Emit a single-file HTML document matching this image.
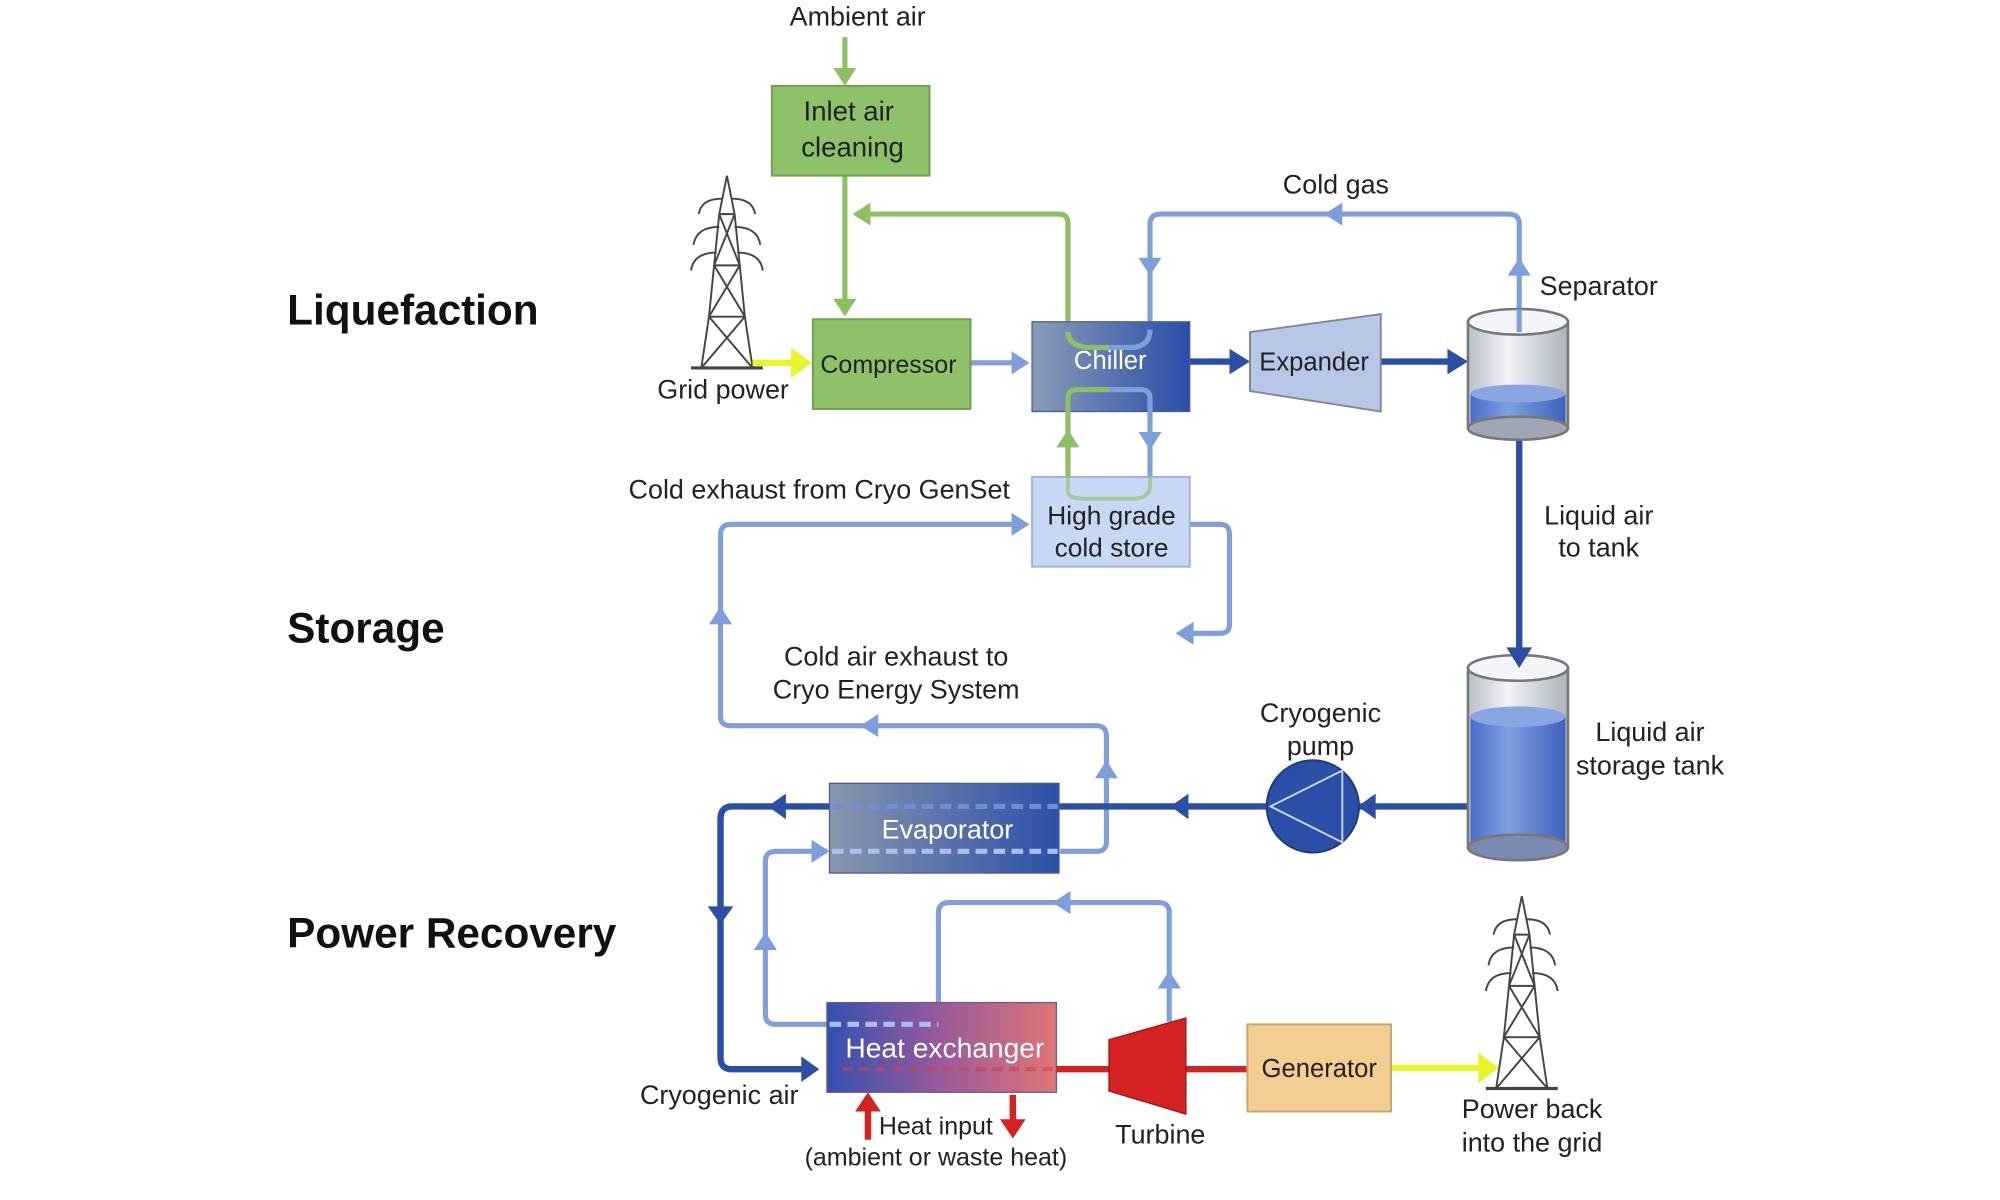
<!DOCTYPE html>
<html><head><meta charset="utf-8"><style>
html,body{margin:0;padding:0;background:#fff;}
svg{display:block;}
text{font-family:"Liberation Sans",sans-serif;fill:#222;}
</style></head><body>
<svg width="2000" height="1200" viewBox="0 0 1560 936" xmlns="http://www.w3.org/2000/svg">
<defs>
<linearGradient id="gch" x1="0" x2="1"><stop offset="0" stop-color="#8a9bb8"/><stop offset="1" stop-color="#2a4ea8"/></linearGradient>
<linearGradient id="gev" x1="0" x2="1"><stop offset="0" stop-color="#8896ad"/><stop offset="1" stop-color="#2d50a8"/></linearGradient>
<linearGradient id="ghx" x1="0" x2="1"><stop offset="0" stop-color="#3450b0"/><stop offset="0.5" stop-color="#9a5a9a"/><stop offset="1" stop-color="#e07575"/></linearGradient>
<linearGradient id="gcyl" x1="0" x2="1"><stop offset="0" stop-color="#b8bec8"/><stop offset="0.4" stop-color="#f2f4f7"/><stop offset="1" stop-color="#aab2bd"/></linearGradient>
<linearGradient id="gliq" x1="0" x2="1"><stop offset="0" stop-color="#4a6fc8"/><stop offset="0.4" stop-color="#7e9ee0"/><stop offset="1" stop-color="#3f63be"/></linearGradient>
<g id="tower" fill="none" stroke="#444" stroke-width="1.5">
<path d="M0,0 L-6,30 L-10,70 L-14,110 L-20,150 M0,0 L6,30 L10,70 L14,110 L20,150"/>
<path d="M-6,30 L10,70 L-14,110 L20,150 M6,30 L-10,70 L14,110 L-20,150 M-6,30 L6,30 M-10,70 L10,70 M-14,110 L14,110"/>
<path d="M-4,18 Q-20,18 -22,30 M4,18 Q20,18 22,30 M-6,40 Q-24,40 -26,54 M6,40 Q24,40 26,54 M-8,60 Q-26,60 -28,74 M8,60 Q26,60 28,74"/>
<path d="M-28,150 L28,150" stroke-width="2.5"/>
</g>
</defs>
<g transform="translate(-3,-1)">
<text x="227" y="254" font-size="33" font-weight="bold" style="fill:#111">Liquefaction</text>
<text x="227" y="502" font-size="33" font-weight="bold" style="fill:#111">Storage</text>
<text x="227" y="740" font-size="33" font-weight="bold" style="fill:#111">Power Recovery</text>

<g stroke="#8cc063" stroke-width="4" fill="none">
<path d="M662,30 V62"/>
<path d="M662,138 V240"/>
<path d="M836,265 V175 Q836,168 829,168 H676"/>
<path d="M836,390 V312 Q836,305 843,305 H870"/>
</g>
<g fill="#8cc063">
<polygon points="662,68 653,54 671,54"/>
<polygon points="662,248 653,234 671,234"/>
<polygon points="668,168 682,159 682,177"/>
<polygon points="836,336 827,350 845,350"/>
</g>

<g stroke="#7f9fdc" stroke-width="4" fill="none">
<path d="M760,284 H800"/>
<path d="M1188,245 V176 Q1188,168 1180,168 H908 Q900,168 900,176 V255 Q900,265 890,265 H870"/>
<path d="M870,305 H893 Q900,305 900,312 V390"/>
<path d="M931,410 H955 Q962,410 962,418 V488 Q962,495 955,495 H926"/>
<path d="M800,410 H573 Q565,410 565,418 V560 Q565,567 573,567 H858 Q866,567 866,575 V658 Q866,665 858,665 H830"/>
<path d="M648,665 H608 Q600,665 600,673 V792 Q600,800 608,800 H650"/>
<path d="M735,800 V713 Q735,705 743,705 H907 Q915,705 915,713 V798"/>
</g>
<g fill="#7f9fdc">
<polygon points="806,284 792,275 792,293"/>
<polygon points="1188,202 1179,216 1197,216"/>
<polygon points="1036,168 1050,159 1050,177"/>
<polygon points="900,216 891,202 909,202"/>
<polygon points="900,352 891,338 909,338"/>
<polygon points="806,410 792,401 792,419"/>
<polygon points="920,495 934,486 934,504"/>
<polygon points="565,474 556,488 574,488"/>
<polygon points="674,567 688,558 688,576"/>
<polygon points="866,594 857,608 875,608"/>
<polygon points="650,665 636,656 636,674"/>
<polygon points="600,728 591,742 609,742"/>
<polygon points="824,705 838,696 838,714"/>
<polygon points="915,758 906,772 924,772"/>
</g>

<g stroke="#2b4ea6" stroke-width="5" fill="none">
<path d="M931,283 H966"/>
<path d="M1080,283 H1138"/>
<path d="M1188,345 V508"/>
<path d="M1148,630 H574 Q565,630 565,640 V826 Q565,835 574,835 H632"/>
</g>
<g fill="#2b4ea6">
<polygon points="978,283 962,273 962,293"/>
<polygon points="1148,283 1132,273 1132,293"/>
<polygon points="1062,630 1076,620 1076,640"/>
<polygon points="916,630 930,620 930,640"/>
<polygon points="602,630 616,620 616,640"/>
<polygon points="565,722 555,708 575,708"/>
<polygon points="642,835 628,825 628,845"/>
</g>

<use href="#tower" x="570" y="138"/>
<use href="#tower" x="1190" y="700"/>

<g stroke="#e8f530" stroke-width="5"><path d="M590,284 H624"/><path d="M1088,834 H1160"/></g>
<polygon points="636,284 620,272 620,296" fill="#e8f530"/>
<polygon points="1172,834 1156,822 1156,846" fill="#e8f530"/>

<rect x="605" y="68" width="123" height="70" fill="#8dc26a" stroke="#6f9f50" stroke-width="1.5"/>
<text x="665" y="95" font-size="21.5" text-anchor="middle">Inlet air</text>
<text x="668" y="123" font-size="21.5" text-anchor="middle">cleaning</text>

<rect x="637" y="250" width="123" height="70" fill="#8dc26a" stroke="#6f9f50" stroke-width="1.5"/>
<text x="696" y="292" font-size="19.5" text-anchor="middle">Compressor</text>

<rect x="808" y="252" width="123" height="70" fill="url(#gch)" stroke="#4a5f90" stroke-width="1"/>
<text x="869" y="289" font-size="20" text-anchor="middle" style="fill:#fff">Chiller</text>
<path d="M836,260 Q836,270 850,272 H868" stroke="#8cc063" stroke-width="4" fill="none"/>
<path d="M900,258 Q900,270 888,272 H868" stroke="#7f9fdc" stroke-width="4" fill="none"/>
<path d="M836,330 V312 Q836,305 843,305 H868" stroke="#8cc063" stroke-width="4" fill="none"/>
<path d="M868,305 H893 Q900,305 900,312 V330" stroke="#7f9fdc" stroke-width="4" fill="none"/>

<polygon points="978,260 1080,246 1080,322 978,306" fill="#b8c7e8" stroke="#7f8796" stroke-width="1.5"/>
<text x="1028" y="290" font-size="20" text-anchor="middle">Expander</text>

<rect x="808" y="373" width="123" height="70" fill="#c8d7f3" stroke="#9fb2d6" stroke-width="1.5"/>
<path d="M836,373 V385 Q836,390 850,390 H886 Q900,390 900,380 V373" stroke="#8cc063" stroke-width="3" fill="none" opacity="0.6"/>
<text x="870" y="410" font-size="20.5" text-anchor="middle">High grade</text>
<text x="870" y="435" font-size="20.5" text-anchor="middle">cold store</text>

<rect x="650" y="612" width="179" height="70" fill="url(#gev)" stroke="#4a5f90" stroke-width="1"/>
<g stroke="#6f8ed6" stroke-width="4" stroke-dasharray="9,5" fill="none"><path d="M652,630 H828"/></g>
<g stroke="#aabfeb" stroke-width="4" stroke-dasharray="9,5" fill="none"><path d="M652,665 H828"/></g>
<text x="742" y="655" font-size="21" text-anchor="middle" style="fill:#fff">Evaporator</text>

<rect x="648" y="783" width="179" height="70" fill="url(#ghx)" stroke="#6a5a90" stroke-width="1"/>
<g stroke="#aabfeb" stroke-width="4" stroke-dasharray="9,5" fill="none"><path d="M650,800 H735"/></g>
<g stroke="#d04050" stroke-width="3" stroke-dasharray="8,5" fill="none" opacity="0.6"><path d="M660,835 H826"/></g>
<text x="740" y="826" font-size="22" text-anchor="middle" style="fill:#fff">Heat exchanger</text>

<g stroke="#d42121" stroke-width="5"><path d="M827,835 H870"/><path d="M928,835 H976"/><path d="M680,890 V866"/><path d="M793,855 V876"/></g>
<polygon points="868,812 928,795 928,870 868,852" fill="#d42121" stroke="#a01515" stroke-width="1"/>
<polygon points="680,853 670,868 690,868" fill="#d42121"/>
<polygon points="793,889 783,874 803,874" fill="#d42121"/>

<rect x="976" y="800" width="112" height="68" fill="#f3cd92" stroke="#c9a46e" stroke-width="1.5"/>
<text x="1032" y="841" font-size="20" text-anchor="middle">Generator</text>

<circle cx="1027" cy="630" r="36" fill="#2b4ea6" stroke="#1e3a80" stroke-width="1.5"/>
<polygon points="994,630 1050,602 1050,658" fill="none" stroke="#c8d4ee" stroke-width="1.5"/>

<rect x="1148" y="252" width="78" height="83" fill="url(#gcyl)" stroke="#777" stroke-width="2"/>
<rect x="1150" y="308" width="74" height="27" fill="url(#gliq)"/>
<ellipse cx="1187" cy="308" rx="37" ry="7" fill="#8aa6e2"/>
<ellipse cx="1187" cy="335" rx="39" ry="9" fill="#9fa7b4" stroke="#777" stroke-width="2"/>
<ellipse cx="1187" cy="252" rx="39" ry="10" fill="#f3f5f8" stroke="#777" stroke-width="2"/>
<path d="M1188,242 V260" stroke="#7f9fdc" stroke-width="4"/>

<rect x="1148" y="522" width="78" height="140" fill="url(#gcyl)" stroke="#777" stroke-width="2"/>
<rect x="1150" y="560" width="74" height="102" fill="url(#gliq)"/>
<ellipse cx="1187" cy="560" rx="37" ry="8" fill="#8aa6e2"/>
<ellipse cx="1187" cy="662" rx="39" ry="10" fill="#7a8ab0" stroke="#777" stroke-width="2"/>
<ellipse cx="1187" cy="522" rx="39" ry="10" fill="#f3f5f8" stroke="#777" stroke-width="2"/>
<polygon points="1188,522 1178,506 1198,506" fill="#2b4ea6"/>

<g font-size="21">
<text x="672" y="21" text-anchor="middle">Ambient air</text>
<text x="1045" y="152" text-anchor="middle">Cold gas</text>
<text x="1250" y="231" text-anchor="middle">Separator</text>
<text x="567" y="312" text-anchor="middle">Grid power</text>
<text x="642" y="390" text-anchor="middle">Cold exhaust from Cryo GenSet</text>
<text x="1250" y="410" text-anchor="middle">Liquid air</text>
<text x="1250" y="435" text-anchor="middle">to tank</text>
<text x="702" y="520" text-anchor="middle">Cold air exhaust to</text>
<text x="702" y="546" text-anchor="middle">Cryo Energy System</text>
<text x="1033" y="564" text-anchor="middle">Cryogenic</text>
<text x="1033" y="590" text-anchor="middle">pump</text>
<text x="1290" y="579" text-anchor="middle">Liquid air</text>
<text x="1290" y="605" text-anchor="middle">storage tank</text>
<text x="564" y="862" text-anchor="middle">Cryogenic air</text>
<text x="733" y="886" text-anchor="middle" font-size="19.5">Heat input</text>
<text x="733" y="910" text-anchor="middle" font-size="19.5">(ambient or waste heat)</text>
<text x="908" y="893" text-anchor="middle">Turbine</text>
<text x="1198" y="873" text-anchor="middle">Power back</text>
<text x="1198" y="899" text-anchor="middle">into the grid</text>
</g>
</g>
</svg>
</body></html>
